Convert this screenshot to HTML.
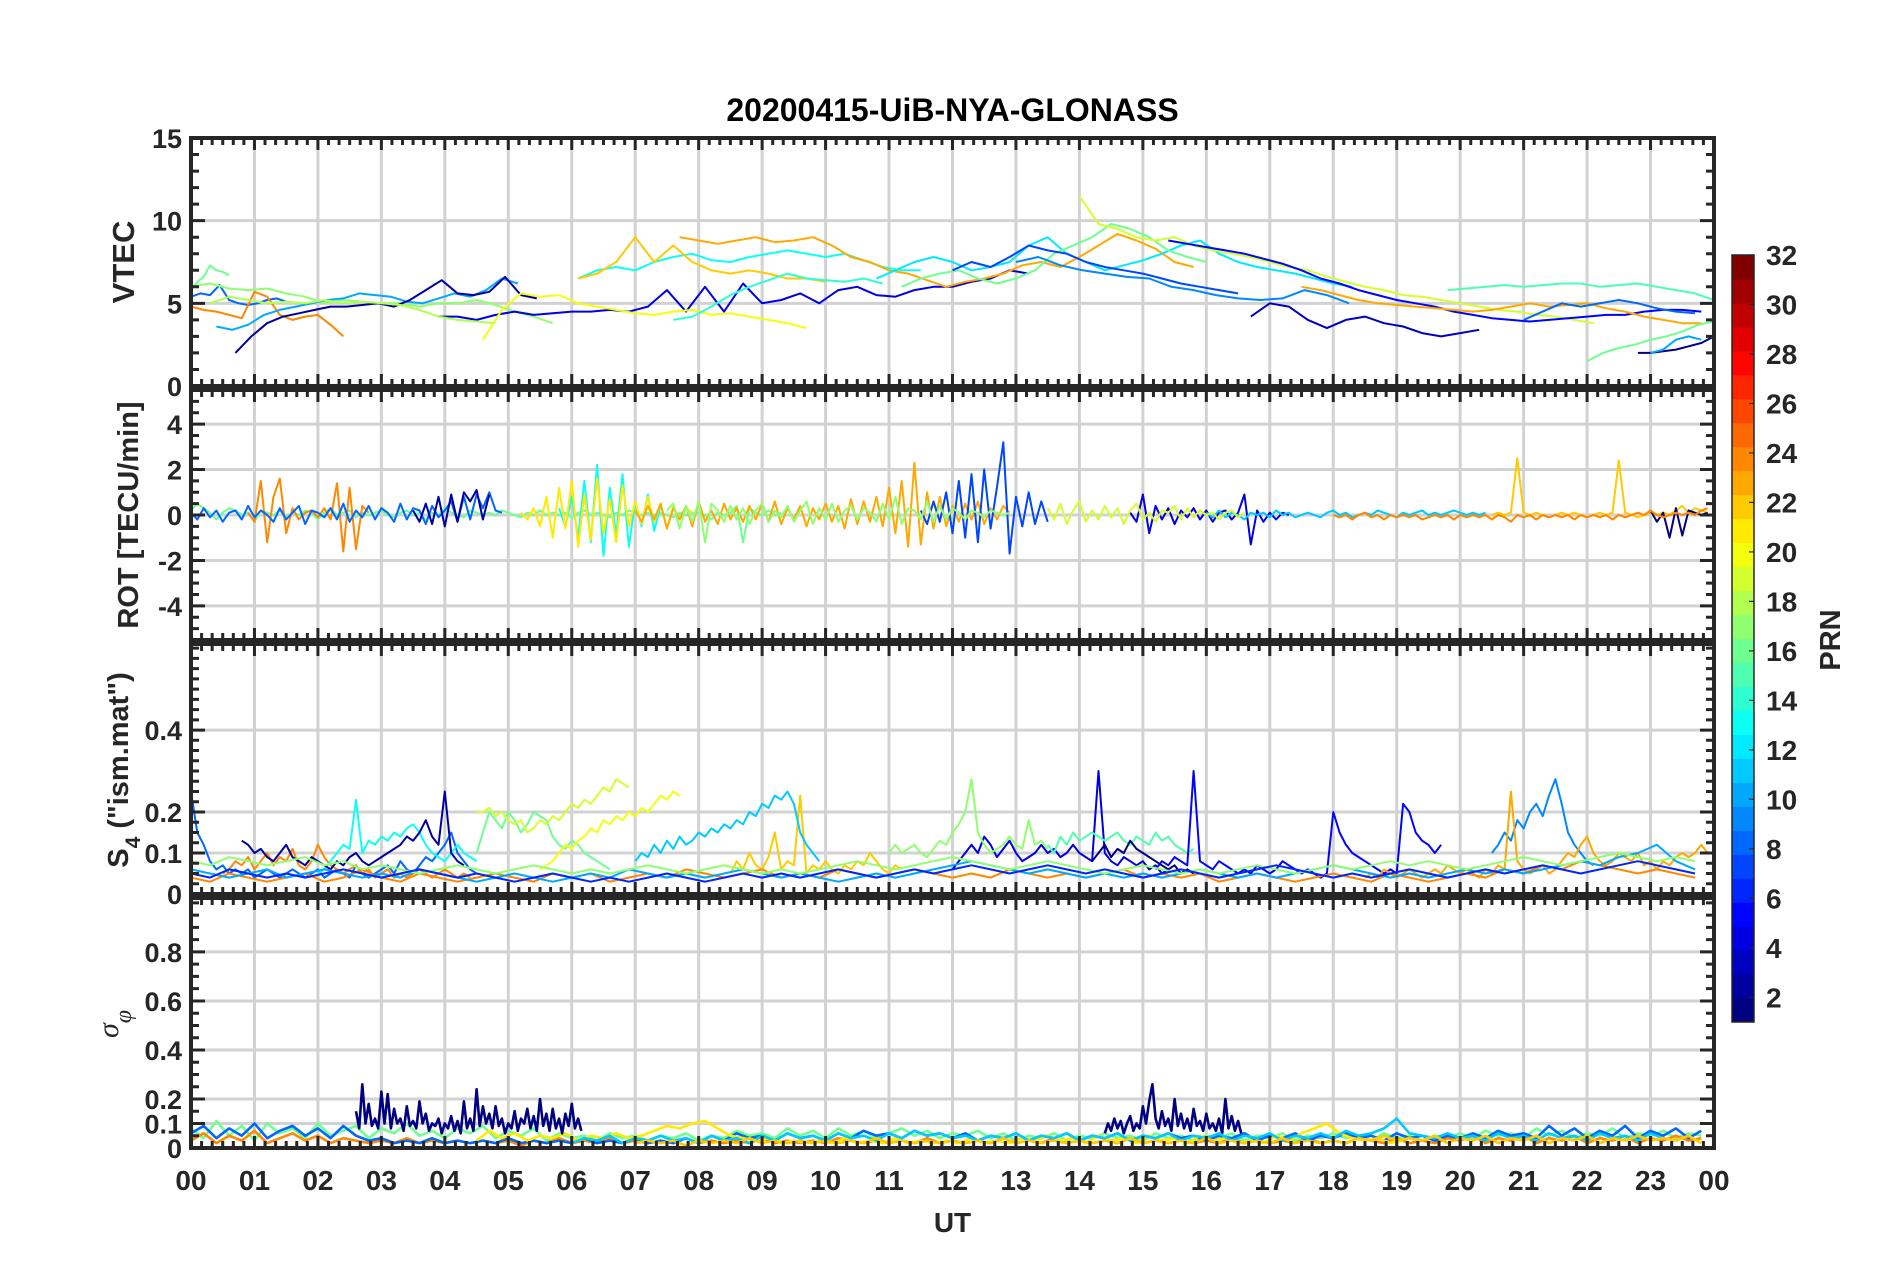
<!DOCTYPE html>
<html><head><meta charset="utf-8">
<style>
html,body{margin:0;padding:0;background:#fff;}
svg{display:block;font-family:"Liberation Sans",sans-serif;}
</style></head>
<body>
<svg id="fig" width="1902" height="1272" viewBox="0 0 1902 1272" xmlns="http://www.w3.org/2000/svg"></svg>
<script>
// ---------------- DATA ----------------
const hourLabels = ["00","01","02","03","04","05","06","07","08","09","10","11","12","13","14","15","16","17","18","19","20","21","22","23","00"];
const vtecTicks = [0,5,10,15];
const rotTicks = [-4,-2,0,2,4];
const s4Ticks = [0,0.1,0.2,0.4];
const sigTicks = [0,0.1,0.2,0.4,0.6,0.8];
const cbTicks = [2,4,6,8,10,12,14,16,18,20,22,24,26,28,30,32];

// VTEC series
const vtecPrn = [16,8,24,17,10,2,4,20,13,22,23,14,12,16,19,5,3,9,15,23,16,1,8,10,18,7];
const vtecStart = [0,0,0,0,0.4,0.7,3.9,4.6,6.1,6.1,7.7,7.6,10.8,11.2,14.0,15.4,16.7,13.0,19.8,17.5,22.0,22.8,21.0,23.0,0.3,12.0];
const vtecStep = [0.1,0.15,0.2,0.3,0.25,0.25,0.3,0.3,0.3,0.3,0.3,0.3,0.3,0.3,0.3,0.3,0.3,0.35,0.3,0.3,0.25,0.2,0.3,0.2,0.3,0.3];
const vtecVals = [
 [5.8,6.3,6.6,7.3,7.0,6.9,6.7],
 [5.4,5.6,5.5,6.1,5.2,5.0,4.9,5.0,5.2,5.3,5.1],
 [4.8,4.6,4.5,4.3,4.1,5.7,5.4,4.3,4.0,4.2,4.3,3.7,3.0],
 [6.0,6.2,5.9,5.8,5.9,5.6,5.4,5.0,5.2,5.1,5.0,5.0,4.8,5.0,5.0,5.2,4.9,4.5,4.2,3.8],
 [3.6,3.4,3.7,4.3,4.6,4.8,5.0,5.2,5.3,5.6,5.5,5.4,5.1,5.0,5.3,5.6,5.4,5.8,6.5,6.2],
 [2.0,3.0,3.8,4.2,4.4,4.6,4.8,4.8,4.9,5.0,4.8,5.2,5.8,6.4,5.6,5.5,5.7,6.6,5.5,5.3],
 [4.2,4.2,4.0,4.3,4.5,4.3,4.4,4.5,4.5,4.6,4.5,4.8,5.8,4.5,6.0,4.5,6.2,5.0,5.2,5.6,5.0,5.8,6.0,5.5,5.4,5.8,6.0,6.0,6.3,6.5,7.0,6.8],
 [2.8,4.6,5.6,5.4,5.5,5.0,4.8,4.6,4.4,4.3,4.5,4.6,4.3,4.4,4.2,4.0,3.8,3.5],
 [6.5,7.0,7.2,7.0,7.5,7.8,8.0,7.6,7.5,7.8,8.0,8.2,8.0,7.8,8.0,7.6,7.2,7.0,7.0],
 [6.5,6.8,7.5,9.0,7.5,8.5,7.5,7.0,6.8,7.0,6.8,6.5,6.5,6.3],
 [9.0,8.8,8.6,8.8,9.0,8.7,8.8,9.0,8.5,7.8,7.5,7.0,6.8,6.4,6.0,6.3,6.5,6.8,7.3,7.5,7.2,7.8,8.5,9.2,8.8,8.3,7.5,7.2],
 [4.0,4.2,4.8,5.5,6.0,6.4,6.8,6.5,6.4,6.3,6.5,6.2],
 [6.5,7.0,7.5,7.8,7.5,7.0,7.2,7.5,8.5,9.0,8.0,7.5,7.0,7.3,7.6,8.0,8.5,8.8,8.0,7.5,7.2,7.0,6.8,6.5,6.2,6.0],
 [6.0,6.5,6.8,7.0,6.5,6.2,6.5,7.0,8.0,8.5,9.0,9.8,9.5,9.0,8.2,7.8,7.5],
 [11.5,9.8,9.5,9.0,8.8,9.0,8.5,8.2,8.0,7.8,7.5,7.2,7.0,6.6,6.3,6.0,5.8,5.5,5.4,5.2,5.0,4.8,4.6,4.5,4.3,4.2,4.0,3.8],
 [8.8,8.6,8.4,8.2,8.0,7.7,7.4,7.0,6.5,6.2,5.8,5.5,5.2,5.0,4.8,4.5,4.3,4.1,4.0,3.9,4.0,4.1,4.2,4.3,4.3,4.5,4.6,4.6,4.5],
 [4.2,5.0,4.8,4.0,3.5,4.0,4.2,3.8,3.6,3.2,3.0,3.2,3.4],
 [7.5,7.8,7.3,7.0,6.8,6.6,6.5,6.0,5.8,5.5,5.3,5.2,5.3,5.8,5.5,5.0],
 [5.8,5.9,6.0,6.1,6.0,6.1,6.2,6.2,6.0,6.1,6.2,6.0,5.8,5.6,5.2,4.8,4.6],
 [6.0,5.8,5.5,5.2,5.0,4.9,4.8,4.7,4.6,4.5,4.6,4.8,5.0,4.8,4.9,5.0,4.7,4.5,4.2,4.0,3.8,3.8],
 [1.5,2.0,2.3,2.5,2.8,3.0,3.3,3.7,3.9,4.1],
 [2.0,2.0,2.1,2.2,2.4,2.6,3.0],
 [4.0,4.5,5.0,4.8,5.0,5.2,5.0,4.7,4.5,4.4],
 [2.0,2.2,2.8,3.0,2.8],
 [5.0,5.4,5.2,5.0,5.1,5.0,5.2,5.0,5.1,5.0,4.9,4.6,4.2,4.0,3.9,3.8],
 [7.0,7.5,7.2,7.8,8.5,8.2,8.0,7.5,7.2,7.0,6.8,6.5,6.2,6.0,5.8,5.6]
];

// ROT series (step 0.1 h)
const rotPrn = [16,24,8,2,13,21,23,7,17,4,22,1,11,19,24];
const rotStart = [0,0.9,0,3.5,5.8,5.2,7.0,11.5,7.5,14.8,20.5,23.0,16.0,13.5,18.0];
const rotVals = [
 [0.2,0.5,0.3,0.1,-0.2,0.1,0.3,0.2,0,0.1,-0.3,0.2,0.1,0,0.2,-0.1,0.1,0,0.2,0.1,-0.2,0.1,0.3,0,0.1,0.2,-0.1,0.1,0,0.1,0.2,0,-0.1,0.1,0.2,0,0.1,-0.2,0.1,0,0.3,0.1,0,-0.1,0.2,0.1,0,0.1,0,0.2,0.1,0,-0.1,0.1,0,0.2,0,0.1,0,0.1,-0.1,0.1,0.2,0,0.1,0,-0.1,0.1,0,0.2,0.1,0,0.1,0,0.1,0,-0.1,0.1,0,0.1,0.1,0,-0.2,0.1,0,0.1,0.4,-1.2,0.3,0.1,0,0.2,0,0.1],
 [0.1,-0.3,1.5,-1.2,0.8,1.6,-0.8,0.3,-0.2,0.1,0.2,-0.1,0.3,-0.2,1.4,-1.6,1.2,-1.5,0.4,0.1],
 [0.1,-0.2,0.3,-0.1,0.2,-0.3,0.1,0.2,-0.2,0.4,-0.1,0.2,0,-0.3,0.3,-0.2,0.1,0.4,-0.4,0.2,0.1,-0.1,0.3,-0.2,0.5,-0.3,0.2,-0.1,0.4,-0.2,0.3,0.1,-0.3,0.5,-0.2,0.3,0.2,-0.4,0.4,-0.1,0.2,0.6,-0.3,0.8,-0.2,0.9,0.3,1.0,0.2,0.1],
 [0.2,-0.3,0.5,-0.4,0.8,-0.5,0.9,-0.3,1.0,0.6,1.1,-0.2,0.9],
 [0.3,-0.5,0.8,-1.0,1.5,-1.2,2.2,-1.8,1.2,-0.9,1.8,-1.4,0.6,-0.5,0.9,-0.7,0.4],
 [0.1,-0.2,0.3,-0.5,0.8,-1.0,1.2,-0.6,1.5,-1.4,0.9,-1.1,1.6,-0.8,0.7,-1.2,1.3,-0.5,0.6,-0.4,0.8,-0.3,0.5,-0.6,0.4,-0.2,0.3,0.1],
 [0.2,-0.3,0.4,-0.2,0.5,-0.6,0.3,-0.2,0.4,-0.5,0.6,-0.3,0.2,-0.4,0.5,-0.2,0.3,-0.3,0.4,-0.2,0.5,-0.3,0.6,-0.4,0.3,-0.2,0.4,-0.5,0.3,-0.2,0.5,-0.3,0.4,-0.6,0.7,-0.4,0.6,-0.3,0.8,-0.5,1.2,-0.8,1.5,-1.4,2.3,-1.3,1.0,-0.6,0.8,-0.5,0.4,-0.3,0.5,-0.2,0.6,-0.4,0.3,-0.2,0.4,0.1],
 [0.2,-0.4,0.6,-0.3,1.0,-0.8,1.5,-1.0,1.8,-1.2,2.0,-0.6,1.2,3.2,-1.7,0.8,-0.5,1.0,-0.4,0.6,-0.3],
 [0.2,0.5,-0.6,0.4,-0.3,0.6,-1.2,0.5,0.2,-0.3,0.4,-0.2,0.3,-0.4,0.2,0.5,-0.3,0.2,-0.1,0.4,-0.3,0.2,0.6,-0.4,0.3,-0.2,0.5,-0.3,0.2,0.4,-0.2,0.3,0.1,-0.3,0.5,-0.2,0.8,-0.4,0.3,0.2,-0.2,0.6,-0.3,0.4,-0.2,0.3,0.1,-0.2,0.2,0.1,-0.1,0.2,0.1,0,0.1],
 [0.1,-0.3,0.9,-0.8,0.4,-0.2,0.3,-0.4,0.2,-0.1,0.3,-0.2,0.2,-0.3,0.1,0.2,-0.2,0.1,0.9,-1.3,0.2,-0.3,0.1,-0.2,0.1,0],
 [0,0.1,0,0.1,2.5,0.1,0,0.1,0,-0.1,0,0.1,0,0.1,0,-0.1,0,0.1,0,0.1,2.4,0.1,0,-0.1,0,0.1,0,0.1,0,0.2,0.4,0.1,0.3,0.2,0.1],
 [0.2,-0.3,0.1,-1.0,0.3,-0.9,0.2,0.1,0,0.1],
 [0.1,-0.1,0.2,-0.1,0.1,0,-0.2,0.1,0,0.1,-0.1,0.2,0,0.1,-0.1,0,0.1,0,-0.1,0.1,0.2,0,0.1,-0.1,0,0.1,0,0.2,0.1,0,-0.1,0.1,0,0.1,0.2,0,0.1,0,0.1,0.2,0.1,0,0.1,0,0.1],
 [0.3,-0.2,0.5,-0.4,0.2,0.6,-0.3,0.2,-0.2,0.4,-0.1,0.3,-0.4,0.2,0.5,-0.2,0.1,-0.3,0.2,0.1,0.4,-0.2,0.3,-0.1,0.2,0,0.1,-0.2,0.1,0.2,-0.1,0.1],
 [0,-0.1,0,-0.2,0,0.1,-0.1,0,-0.2,0,-0.1,0,-0.1,0,-0.2,-0.1,0,-0.1,0,-0.2,0,-0.1,0,-0.1,0,-0.2,0,-0.1,-0.3,0,-0.1,0,-0.2,0,-0.1,0,-0.1,0,-0.2,0,-0.1,0,-0.1,0,-0.2,0,-0.1,0,0.1,0,0.2,0,-0.1,0,0.1,0,0.1,0,0.2,0.3]
];

// S4 series
const s4Prn = [8,24,13,2,16,19,20,22,4,11,15,17,5,1,9,23,24,10,17,6];
const s4Start = [0,0.5,2.0,0.8,4.5,4.5,5.5,8.5,12.0,7.0,13.5,11.0,15.2,14.2,20.5,18.5,0,0,0,0];
const s4Step = [0.1,0.1,0.1,0.1,0.1,0.1,0.1,0.1,0.1,0.1,0.1,0.1,0.1,0.1,0.1,0.1,0.3,0.3,0.3,0.3];
const s4Vals = [
 [0.25,0.15,0.12,0.08,0.06,0.07,0.05,0.06,0.05,0.06,0.04,0.05,0.06,0.05,0.04,0.05,0.06,0.05,0.04,0.05,0.06,0.04,0.05,0.06,0.05,0.04,0.07,0.05,0.04,0.05,0.06,0.07,0.05,0.08,0.06,0.05,0.07,0.09,0.08,0.1,0.12,0.15,0.1,0.08,0.06,0.05],
 [0.05,0.06,0.08,0.07,0.09,0.06,0.08,0.1,0.07,0.09,0.08,0.11,0.07,0.06,0.08,0.12,0.09,0.07,0.06,0.05,0.06,0.07,0.05,0.06,0.04,0.05,0.06,0.04,0.05,0.04,0.05,0.06,0.05,0.04,0.05,0.06,0.05,0.04,0.05,0.04],
 [0.05,0.06,0.08,0.1,0.12,0.11,0.23,0.1,0.13,0.12,0.14,0.13,0.15,0.14,0.16,0.17,0.15,0.12,0.1,0.09,0.08,0.1,0.12,0.1,0.09,0.08],
 [0.13,0.12,0.1,0.11,0.09,0.08,0.1,0.12,0.09,0.08,0.07,0.09,0.08,0.07,0.06,0.08,0.07,0.09,0.1,0.08,0.07,0.08,0.09,0.1,0.11,0.12,0.14,0.13,0.15,0.18,0.14,0.12,0.25,0.1,0.08,0.07],
 [0.1,0.15,0.2,0.18,0.16,0.2,0.18,0.15,0.17,0.2,0.19,0.18,0.14,0.12,0.11,0.13,0.12,0.1,0.09,0.08,0.07,0.06],
 [0.2,0.2,0.21,0.19,0.2,0.18,0.17,0.18,0.15,0.16,0.18,0.17,0.19,0.18,0.2,0.22,0.21,0.23,0.22,0.24,0.26,0.25,0.28,0.27,0.26],
 [0.06,0.07,0.08,0.1,0.12,0.11,0.13,0.14,0.16,0.15,0.18,0.17,0.19,0.18,0.2,0.19,0.21,0.2,0.22,0.24,0.23,0.25,0.24],
 [0.05,0.08,0.06,0.1,0.07,0.06,0.09,0.15,0.06,0.08,0.07,0.24,0.05,0.07,0.06,0.08,0.06,0.05,0.07,0.06,0.08,0.07,0.1,0.08,0.06,0.05,0.07,0.06],
 [0.06,0.08,0.1,0.12,0.1,0.14,0.12,0.09,0.11,0.13,0.1,0.08,0.09,0.1,0.12,0.1,0.11,0.09,0.1,0.12,0.1,0.09,0.08,0.3,0.1,0.08,0.07,0.09,0.08,0.07,0.08,0.06,0.07,0.05,0.06],
 [0.08,0.1,0.09,0.12,0.1,0.13,0.11,0.14,0.12,0.13,0.15,0.14,0.16,0.15,0.17,0.16,0.18,0.17,0.2,0.19,0.22,0.21,0.24,0.23,0.25,0.22,0.15,0.12,0.1,0.08],
 [0.12,0.1,0.14,0.12,0.15,0.13,0.14,0.15,0.14,0.13,0.14,0.15,0.13,0.12,0.14,0.13,0.12,0.15,0.13,0.14,0.12,0.11,0.1,0.11],
 [0.1,0.12,0.1,0.11,0.12,0.1,0.09,0.11,0.13,0.12,0.15,0.17,0.2,0.28,0.15,0.12,0.1,0.11,0.12,0.14,0.12,0.11,0.18,0.12,0.13,0.11],
 [0.06,0.08,0.07,0.09,0.08,0.07,0.3,0.08,0.07,0.06,0.08,0.07,0.06,0.05,0.06,0.05,0.07,0.06,0.05,0.06,0.08,0.07,0.06,0.05,0.06,0.05,0.04,0.05,0.2,0.15,0.12,0.1,0.09,0.08,0.07,0.06,0.05,0.06,0.05,0.22,0.2,0.15,0.13,0.12,0.1,0.12],
 [0.08,0.1,0.12,0.09,0.11,0.1,0.13,0.11,0.1,0.09,0.08,0.07,0.06,0.07,0.05,0.06,0.05],
 [0.1,0.12,0.15,0.13,0.18,0.16,0.2,0.22,0.19,0.24,0.28,0.22,0.15,0.12,0.1,0.08,0.07],
 [0.04,0.05,0.04,0.06,0.05,0.04,0.05,0.06,0.05,0.04,0.05,0.06,0.05,0.07,0.06,0.05,0.06,0.05,0.04,0.06,0.05,0.07,0.06,0.25,0.08,0.06,0.05,0.06,0.07,0.05,0.06,0.08,0.1,0.09,0.12,0.14,0.1,0.08,0.07,0.08,0.1,0.09,0.08,0.1,0.07,0.08,0.06,0.08,0.07,0.09,0.1,0.09,0.1,0.12,0.1],
 [0.04,0.03,0.05,0.04,0.03,0.04,0.05,0.03,0.04,0.06,0.04,0.03,0.05,0.04,0.03,0.04,0.05,0.04,0.03,0.05,0.04,0.05,0.03,0.04,0.05,0.04,0.06,0.05,0.04,0.05,0.06,0.04,0.05,0.04,0.06,0.05,0.04,0.05,0.06,0.05,0.04,0.05,0.04,0.06,0.05,0.04,0.05,0.04,0.05,0.06,0.04,0.05,0.04,0.05,0.03,0.04,0.05,0.04,0.03,0.04,0.05,0.04,0.03,0.05,0.04,0.03,0.04,0.05,0.04,0.06,0.05,0.07,0.06,0.08,0.07,0.06,0.05,0.06,0.05,0.04],
 [0.06,0.05,0.04,0.05,0.06,0.04,0.05,0.06,0.05,0.04,0.05,0.04,0.06,0.05,0.04,0.03,0.04,0.05,0.04,0.03,0.04,0.05,0.04,0.06,0.05,0.04,0.05,0.04,0.05,0.06,0.05,0.04,0.05,0.04,0.03,0.04,0.05,0.04,0.05,0.06,0.07,0.08,0.07,0.06,0.05,0.06,0.05,0.04,0.05,0.04,0.05,0.04,0.05,0.06,0.05,0.04,0.05,0.04,0.05,0.06,0.07,0.06,0.05,0.04,0.05,0.04,0.05,0.06,0.05,0.06,0.05,0.06,0.07,0.08,0.07,0.09,0.1,0.12,0.08,0.06],
 [0.08,0.07,0.09,0.08,0.07,0.08,0.09,0.07,0.08,0.06,0.07,0.06,0.05,0.06,0.07,0.06,0.05,0.06,0.07,0.06,0.05,0.06,0.05,0.06,0.07,0.06,0.05,0.06,0.07,0.06,0.05,0.06,0.05,0.06,0.07,0.08,0.07,0.06,0.07,0.08,0.09,0.08,0.07,0.06,0.07,0.08,0.07,0.06,0.05,0.06,0.07,0.06,0.05,0.06,0.05,0.06,0.07,0.06,0.05,0.06,0.07,0.06,0.07,0.08,0.07,0.08,0.07,0.06,0.07,0.08,0.09,0.08,0.07,0.08,0.09,0.1,0.09,0.08,0.09,0.08],
 [0.05,0.04,0.06,0.05,0.04,0.05,0.04,0.05,0.06,0.05,0.04,0.05,0.06,0.05,0.04,0.05,0.04,0.03,0.04,0.05,0.04,0.03,0.04,0.03,0.04,0.05,0.04,0.03,0.04,0.05,0.04,0.05,0.04,0.05,0.06,0.05,0.04,0.05,0.06,0.05,0.06,0.07,0.06,0.05,0.06,0.07,0.06,0.05,0.06,0.05,0.04,0.05,0.06,0.05,0.04,0.05,0.06,0.07,0.06,0.05,0.04,0.05,0.04,0.05,0.06,0.05,0.04,0.05,0.06,0.05,0.06,0.07,0.06,0.05,0.06,0.07,0.08,0.07,0.06,0.05]
];

// sigma-phi series
const sigPrn = [16,24,8,21,1,1,11,22];
const sigStart = [0,0,0,4.5,2.6,14.4,6.0,7.0];
const sigStep = [0.2,0.2,0.2,0.2,0.05,0.05,0.2,0.2];
const sigVals = [
 [0.08,0.04,0.11,0.05,0.09,0.03,0.1,0.06,0.08,0.04,0.1,0.05,0.07,0.09,0.04,0.08,0.06,0.1,0.05,0.07,0.04,0.08,0.06,0.09,0.04,0.07,0.05,0.08,0.03,0.06,0.04,0.05,0.03,0.06,0.04,0.05,0.03,0.05,0.04,0.06,0.03,0.05,0.04,0.07,0.05,0.06,0.04,0.08,0.05,0.07,0.04,0.08,0.05,0.07,0.04,0.06,0.08,0.05,0.07,0.04,0.06,0.05,0.07,0.04,0.06,0.03,0.05,0.04,0.06,0.03,0.05,0.04,0.06,0.04,0.05,0.03,0.06,0.04,0.05,0.03,0.05,0.04,0.06,0.03,0.05,0.04,0.06,0.03,0.05,0.04,0.06,0.04,0.05,0.03,0.06,0.04,0.05,0.03,0.05,0.04,0.06,0.04,0.07,0.05,0.06,0.04,0.08,0.05,0.07,0.04,0.06,0.05,0.08,0.04,0.06,0.05,0.07,0.04,0.06,0.05],
 [0.03,0.06,0.02,0.05,0.03,0.07,0.02,0.04,0.06,0.03,0.05,0.02,0.04,0.03,0.02,0.03,0.02,0.04,0.02,0.03,0.02,0.03,0.02,0.03,0.02,0.03,0.01,0.03,0.02,0.04,0.02,0.03,0.02,0.04,0.02,0.03,0.02,0.03,0.02,0.04,0.02,0.03,0.02,0.03,0.02,0.04,0.02,0.03,0.02,0.03,0.02,0.04,0.03,0.02,0.03,0.02,0.03,0.02,0.04,0.02,0.03,0.02,0.03,0.02,0.04,0.02,0.03,0.02,0.04,0.02,0.03,0.02,0.03,0.02,0.04,0.02,0.03,0.02,0.03,0.02,0.03,0.02,0.04,0.02,0.03,0.02,0.03,0.02,0.04,0.02,0.03,0.02,0.04,0.03,0.02,0.04,0.02,0.03,0.02,0.04,0.03,0.05,0.02,0.04,0.03,0.05,0.02,0.04,0.03,0.05,0.02,0.04,0.03,0.05,0.02,0.04,0.03,0.05,0.03,0.04],
 [0.06,0.09,0.04,0.08,0.05,0.1,0.04,0.07,0.09,0.05,0.08,0.04,0.09,0.05,0.03,0.04,0.02,0.03,0.02,0.04,0.02,0.03,0.02,0.03,0.02,0.04,0.02,0.03,0.02,0.03,0.02,0.04,0.02,0.03,0.02,0.04,0.02,0.03,0.02,0.04,0.02,0.05,0.03,0.06,0.04,0.05,0.03,0.06,0.04,0.05,0.03,0.06,0.04,0.07,0.05,0.06,0.04,0.07,0.05,0.06,0.04,0.06,0.03,0.05,0.04,0.06,0.03,0.05,0.04,0.06,0.03,0.05,0.04,0.06,0.03,0.05,0.04,0.06,0.04,0.05,0.03,0.05,0.04,0.06,0.03,0.05,0.04,0.06,0.03,0.05,0.04,0.06,0.04,0.05,0.03,0.06,0.04,0.05,0.03,0.05,0.04,0.06,0.04,0.07,0.05,0.06,0.04,0.09,0.05,0.08,0.04,0.07,0.05,0.09,0.04,0.07,0.05,0.08,0.04,0.07],
 [0.03,0.07,0.04,0.06,0.03,0.05,0.04,0.06,0.03,0.05,0.04,0.06,0.04,0.05,0.07,0.09,0.08,0.1,0.11,0.08,0.05,0.04,0.03,0.04,0.02,0.03,0.02,0.03,0.02,0.04,0.02,0.03,0.02,0.04,0.02,0.03,0.02,0.03,0.02,0.04,0.02,0.03,0.02,0.04,0.03,0.05,0.03,0.04,0.02,0.05,0.03,0.04,0.02,0.05,0.03,0.04,0.02,0.05,0.03,0.04,0.02,0.03,0.02,0.05,0.03,0.06,0.08,0.1,0.06,0.04,0.03,0.04,0.02,0.03],
 [0.15,0.08,0.26,0.1,0.18,0.09,0.12,0.08,0.23,0.1,0.22,0.08,0.16,0.1,0.12,0.07,0.17,0.09,0.11,0.08,0.19,0.1,0.14,0.07,0.1,0.09,0.12,0.06,0.1,0.08,0.13,0.07,0.11,0.06,0.19,0.08,0.12,0.07,0.24,0.09,0.17,0.1,0.14,0.08,0.17,0.09,0.12,0.06,0.1,0.08,0.15,0.07,0.12,0.1,0.16,0.08,0.13,0.07,0.2,0.09,0.14,0.07,0.16,0.08,0.12,0.06,0.14,0.09,0.18,0.08,0.12,0.07],
 [0.06,0.1,0.07,0.12,0.08,0.11,0.06,0.1,0.13,0.07,0.1,0.08,0.17,0.1,0.19,0.26,0.12,0.08,0.15,0.09,0.12,0.07,0.2,0.09,0.14,0.08,0.12,0.07,0.16,0.09,0.11,0.07,0.14,0.08,0.1,0.07,0.12,0.06,0.2,0.08,0.13,0.07,0.11,0.06],
 [0.02,0.04,0.03,0.05,0.02,0.04,0.03,0.05,0.03,0.04,0.02,0.05,0.03,0.04,0.02,0.05,0.03,0.06,0.04,0.05,0.03,0.06,0.04,0.05,0.03,0.06,0.04,0.07,0.05,0.06,0.04,0.05,0.03,0.05,0.04,0.06,0.03,0.05,0.04,0.06,0.03,0.05,0.04,0.06,0.03,0.05,0.04,0.06,0.03,0.05,0.04,0.06,0.03,0.05,0.04,0.06,0.03,0.05,0.04,0.06,0.04,0.07,0.05,0.06,0.08,0.12,0.06,0.05,0.04,0.06,0.04,0.05,0.03,0.06,0.04,0.05,0.03,0.06,0.04,0.05,0.03,0.06,0.04,0.05,0.03,0.06,0.04],
 [0.02,0.03,0.02,0.03,0.01,0.03,0.02,0.03,0.02,0.04,0.02,0.03,0.02,0.03,0.02,0.03,0.02,0.03,0.02,0.04,0.02,0.03,0.02,0.03,0.02,0.03,0.02,0.03,0.02,0.04,0.02,0.03,0.02,0.03,0.02,0.03,0.02,0.03,0.02,0.04,0.02,0.03,0.02,0.03,0.02,0.04,0.02,0.03,0.02,0.03,0.02,0.04,0.02,0.03,0.02,0.03,0.02,0.04,0.03,0.05,0.03,0.04,0.03,0.05,0.02,0.04,0.03,0.05,0.02,0.04,0.03,0.05,0.02,0.04,0.03,0.05,0.02,0.04,0.03,0.05,0.03,0.04,0.03,0.05,0.02]
];

// ---------------- DRAWING ----------------
const NS = "http://www.w3.org/2000/svg";
const svg = document.getElementById('fig');
const L = 191, R = 1714;
const panels = [
 {name:'vtec', top:138, bot:386, min:0, max:15, ticks:vtecTicks, minor:1, sw:2},
 {name:'rot', top:390, bot:640, min:-5.5, max:5.5, ticks:rotTicks, minor:0.5, sw:2},
 {name:'s4', top:644, bot:894, min:0, max:0.61, ticks:s4Ticks, minor:0.025, sw:2},
 {name:'sigma', top:898, bot:1148, min:0, max:1.02, ticks:sigTicks, minor:0.05, sw:2.6}
];
function xScale(h){ return L + h*(R-L)/24; }
function yScale(p,v){ return p.bot - (v-p.min)/(p.max-p.min)*(p.bot-p.top); }
function jet(i){
  const x=i/31;
  const c=t=>Math.round(255*Math.max(0,Math.min(1,1.5-Math.abs(4*x-t))));
  return `rgb(${c(3)},${c(2)},${c(1)})`;
}
function prnColor(p){ return jet(p-1); }
function mk(tag, attrs, parent){
  const e=document.createElementNS(NS,tag);
  for(const k in attrs) e.setAttribute(k,attrs[k]);
  (parent||svg).appendChild(e); return e;
}

const title = mk('text',{x:(L+R)/2,y:121,'text-anchor':'middle','font-size':32,'font-weight':'bold',fill:'#000'});
title.textContent='20200415-UiB-NYA-GLONASS';



const seriesDefs = [
 [vtecPrn, vtecStart, vtecStep, vtecVals],
 [rotPrn, rotStart, null, rotVals],
 [s4Prn, s4Start, s4Step, s4Vals],
 [sigPrn, sigStart, sigStep, sigVals]
];

panels.forEach((p,pi)=>{
  const g = mk('g',{});
  
  
  mk('rect',{x:L,y:p.top,width:R-L,height:p.bot-p.top,fill:'#fff'},g);
  for(let h=1;h<24;h++){
    const gl=mk('line',{x1:xScale(h),x2:xScale(h),y1:p.top,y2:p.bot,stroke:'#d2d2d2','stroke-width':3},g);
    
    
  }
  p.ticks.forEach(v=>{
    const y=yScale(p,v);
    if(v!==p.min){
      const gl=mk('line',{x1:L,x2:R,y1:y,y2:y,stroke:'#d2d2d2','stroke-width':3},g);
      
      
    }
    const t=mk('text',{x:L-9,y:y+10,'text-anchor':'end','font-size':27,'font-weight':'bold',fill:'#262626'},g);
    t.textContent=String(v);
    
    
  });
  const [prns,starts,steps,vals]=seriesDefs[pi];
  const sg=mk('g',{},g);
  
  
  const cp='clip'+pi;
  const cl=mk('clipPath',{id:cp},svg);
  mk('rect',{x:L,y:p.top,width:R-L,height:p.bot-p.top},cl);
  sg.setAttribute('clip-path',`url(#${cp})`);
  prns.forEach((prn,si)=>{
    const dt = steps? steps[si] : 0.1;
    const pts = vals[si].map((v,k)=>xScale(starts[si]+k*dt).toFixed(1)+','+yScale(p,v).toFixed(1)).join(' ');
    const pl=mk('polyline',{points:pts,fill:'none',stroke:prnColor(prn),'stroke-width':p.sw,'stroke-linejoin':'round'},sg);
    
    
  });
  let d='';
  for(let m=0;m<=24*6;m++){
    const x=xScale(m/6), len=(m%6===0)?12:7;
    d+=`M${x},${p.top}v${len}M${x},${p.bot}v${-len}`;
  }
  const nMinor=Math.round((p.max-p.min)/p.minor);
  for(let k=0;k<=nMinor+1;k++){
    const v=Math.ceil(p.min/p.minor)*p.minor+k*p.minor;
    if(v>p.max+1e-9) break;
    const y=yScale(p,v);
    const major=p.ticks.some(t=>Math.abs(t-v)<1e-6);
    const len=major?14:8;
    d+=`M${L},${y}h${len}M${R},${y}h${-len}`;
  }
  mk('path',{d:d,stroke:'#262626','stroke-width':3,fill:'none'},g);
  const box=mk('rect',{x:L,y:p.top,width:R-L,height:p.bot-p.top,fill:'none',stroke:'#262626','stroke-width':4},g);
  
  
});

hourLabels.forEach((lab,i)=>{
  const t=mk('text',{x:xScale(i),y:1190,'text-anchor':'middle','font-size':28,'font-weight':'bold',fill:'#262626'});
  t.textContent=lab;
  
  
});
const xt=mk('text',{x:(L+R)/2,y:1232,'text-anchor':'middle','font-size':28,'font-weight':'bold',fill:'#262626'});
xt.textContent='UT';



function ytitle(txt,x,y,name,size){
  const t=mk('text',{x:x,y:y,'text-anchor':'middle','font-size':size,'font-weight':'bold',fill:'#262626',transform:`rotate(-90 ${x} ${y})`});
  t.innerHTML=txt;
  
  
  return t;
}
ytitle('VTEC',134,262,'vtec-axis-title',31);
ytitle('ROT [TECU/min]',138,515,'rot-axis-title',29);
ytitle('S<tspan baseline-shift="sub" font-size="21">4</tspan> ("ism.mat")',128,770,'s4-axis-title',29);
const sg2=ytitle('σ<tspan baseline-shift="sub" font-size="24">φ</tspan>',118,1024,'sigma-phi-axis-title',30);
sg2.setAttribute('font-weight','normal');
sg2.setAttribute('font-style','italic');
sg2.setAttribute('font-family','"Liberation Serif",serif');

const cbX=1732, cbW=22, cbTop=255, cbBot=1022;
const cbg=mk('g',{});


const cellH=(cbBot-cbTop)/32;
for(let i=0;i<32;i++){
  mk('rect',{x:cbX,y:cbBot-(i+1)*cellH,width:cbW,height:cellH+0.5,fill:jet(i)},cbg);
}
mk('rect',{x:cbX,y:cbTop,width:cbW,height:cbBot-cbTop,fill:'none',stroke:'#262626','stroke-width':1.5},cbg);
function cbY(v){ return cbBot-(v-1)/31*(cbBot-cbTop); }
cbTicks.forEach(v=>{
  const y=cbY(v);
  mk('line',{x1:cbX+cbW-5,x2:cbX+cbW,y1:y,y2:y,stroke:'#262626','stroke-width':1.2},cbg);
  const t=mk('text',{x:cbX+cbW+12,y:y+10,'font-size':28,'font-weight':'bold',fill:'#262626'},cbg);
  t.textContent=String(v);
  
  
});
const prnT=mk('text',{x:1840,y:640,'text-anchor':'middle','font-size':29,'font-weight':'bold',fill:'#262626',transform:'rotate(-90 1840 640)'},cbg);
prnT.textContent='PRN';


</script>
</body></html>
